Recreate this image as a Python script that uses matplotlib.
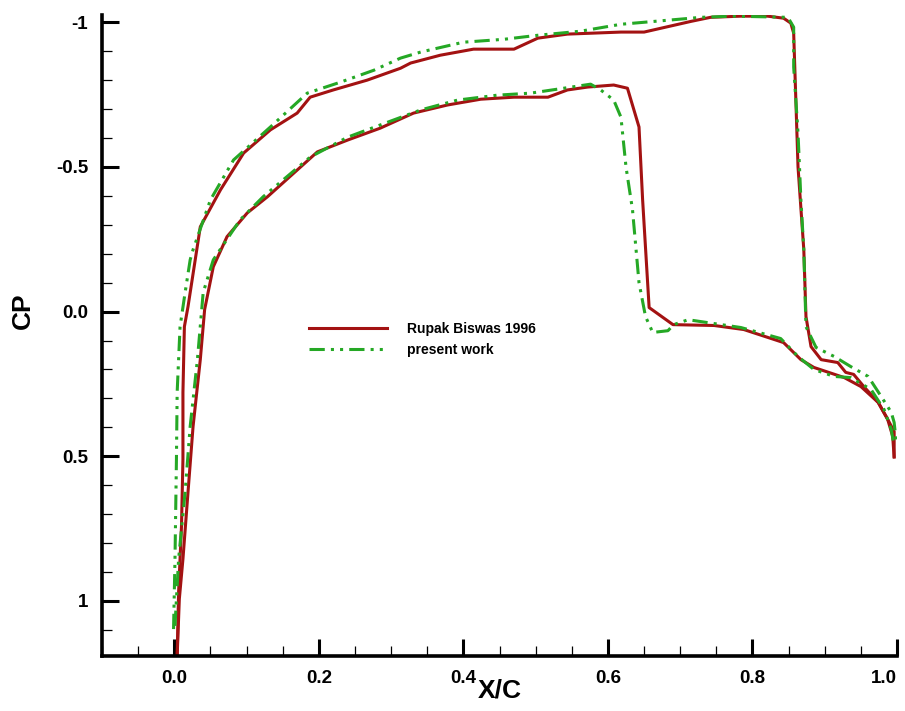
"""
Pressure coefficient distribution: Rupak Biswas 1996 vs present work.
"""

import matplotlib.pyplot as plt
from matplotlib.ticker import MultipleLocator

# Rupak Biswas 1996 - upper surface
ref_up_x = [0.004, 0.006, 0.010, 0.012, 0.012, 0.014, 0.019, 0.036, 0.064, 0.096,
            0.133, 0.170, 0.188, 0.220, 0.267, 0.313, 0.327, 0.368, 0.414, 0.470,
            0.503, 0.544, 0.618, 0.650, 0.715, 0.742, 0.784, 0.821, 0.843, 0.853,
            0.857, 0.860, 0.863, 0.871, 0.874, 0.881, 0.895, 0.918, 0.929, 0.940,
            0.954, 0.974, 0.987, 0.996, 0.996]
ref_up_cp = [1.19, 0.969, 0.741, 0.510, 0.279, 0.052, -0.017, -0.293, -0.421, -0.548,
             -0.628, -0.686, -0.741, -0.766, -0.800, -0.841, -0.859, -0.886, -0.907, -0.907,
             -0.945, -0.959, -0.966, -0.966, -1.003, -1.017, -1.021, -1.021, -1.014, -0.997,
             -0.962, -0.731, -0.500, -0.214, 0.017, 0.121, 0.166, 0.176, 0.210, 0.217,
             0.259, 0.314, 0.372, 0.414, 0.500]

# Rupak Biswas 1996 - lower surface
ref_lo_x = [0.004, 0.007, 0.012, 0.019, 0.026, 0.036, 0.042, 0.054, 0.073, 0.101,
            0.129, 0.198, 0.240, 0.285, 0.331, 0.378, 0.424, 0.470, 0.517, 0.544,
            0.572, 0.608, 0.627, 0.643, 0.648, 0.657, 0.690, 0.747, 0.788, 0.843,
            0.867, 0.885, 0.927, 0.950, 0.974, 0.987, 0.994, 0.996]
ref_lo_cp = [1.19, 0.993, 0.855, 0.624, 0.397, 0.166, -0.007, -0.155, -0.259, -0.341,
             -0.397, -0.552, -0.593, -0.634, -0.686, -0.714, -0.734, -0.741, -0.741, -0.766,
             -0.776, -0.783, -0.772, -0.638, -0.386, -0.014, 0.045, 0.048, 0.062, 0.107,
             0.166, 0.193, 0.228, 0.259, 0.314, 0.372, 0.431, 0.503]

# present work - upper surface
cur_up_x = [-0.001, 0.001, 0.003, 0.004, 0.008, 0.015, 0.022, 0.026, 0.050, 0.082,
            0.133, 0.184, 0.230, 0.276, 0.313, 0.341, 0.400, 0.456, 0.503, 0.562,
            0.618, 0.683, 0.729, 0.774, 0.849, 0.857, 0.857, 0.863, 0.867, 0.871,
            0.874, 0.888, 0.913, 0.936, 0.960, 0.978, 0.992, 0.996, 0.999]
cur_up_cp = [1.097, 0.855, 0.510, 0.279, 0.052, -0.066, -0.179, -0.214, -0.386, -0.524,
             -0.638, -0.755, -0.793, -0.834, -0.876, -0.897, -0.931, -0.941, -0.955, -0.969,
             -0.993, -1.007, -1.017, -1.021, -1.017, -0.983, -0.845, -0.617, -0.386, -0.214,
             0.052, 0.124, 0.155, 0.190, 0.224, 0.293, 0.348, 0.383, 0.452]

# present work - lower surface
cur_lo_x = [0.001, 0.006, 0.015, 0.022, 0.032, 0.040, 0.054, 0.091, 0.123, 0.188,
            0.240, 0.285, 0.341, 0.392, 0.447, 0.493, 0.539, 0.576, 0.590, 0.608,
            0.618, 0.625, 0.634, 0.643, 0.652, 0.662, 0.683, 0.691, 0.711, 0.738,
            0.784, 0.839, 0.863, 0.885, 0.913, 0.936, 0.964, 0.982, 0.992, 0.996]
cur_lo_cp = [1.086, 0.855, 0.624, 0.397, 0.166, -0.066, -0.179, -0.317, -0.397, -0.534,
             -0.603, -0.645, -0.697, -0.731, -0.748, -0.755, -0.772, -0.786, -0.766, -0.731,
             -0.672, -0.500, -0.352, -0.100, 0.017, 0.072, 0.066, 0.045, 0.028, 0.038,
             0.055, 0.093, 0.155, 0.200, 0.224, 0.228, 0.269, 0.338, 0.407, 0.466]

x_ticks = [0.0, 0.2, 0.4, 0.6, 0.8, 1.0]
x_labels = ["0.0", "0.2", "0.4", "0.6", "0.8", "1.0"]
y_ticks = [-1.0, -0.5, 0.0, 0.5, 1.0]
y_labels = ["-1", "-0.5", "0.0", "0.5", "1"]

RED = "#a31212"
GREEN = "#25a825"
tick_font = {"family": "Liberation Sans", "size": 13.5, "weight": "bold"}

fig = plt.figure(figsize=(9.05, 7.11), dpi=100)
ax = fig.add_axes([0.1127, 0.0774, 0.8785, 0.9015])

ax.plot(ref_up_x, ref_up_cp, color=RED, lw=2.2, label="Rupak Biswas 1996")
ax.plot(ref_lo_x, ref_lo_cp, color=RED, lw=2.2)
ax.plot(cur_up_x, cur_up_cp, color=GREEN, lw=2.2, dashes=(5, 2, 1, 2, 1, 2),
        label="present work")
ax.plot(cur_lo_x, cur_lo_cp, color=GREEN, lw=2.2, dashes=(5, 2, 1, 2, 1, 2))

ax.set_xlim(-0.1, 1.0)
ax.set_ylim(1.19, -1.025)

ax.spines["top"].set_visible(False)
ax.spines["right"].set_visible(False)
ax.spines["left"].set_linewidth(2.6)
ax.spines["bottom"].set_linewidth(2.6)

ax.set_xticks(x_ticks)
ax.set_xticklabels(x_labels, fontdict=tick_font)
ax.set_yticks(y_ticks)
ax.set_yticklabels(y_labels, fontdict=tick_font)
ax.xaxis.set_minor_locator(MultipleLocator(0.05))
ax.yaxis.set_minor_locator(MultipleLocator(0.1))
ax.tick_params(which="major", direction="in", length=12, width=2.2, pad=10)
ax.tick_params(which="minor", direction="in", length=7, width=0.9)
# last x label sits against the right edge, as in the source figure
ax.get_xticklabels()[-1].set_horizontalalignment("right")
ax.get_xticklabels()[-1].set_x(1.008)

ax.set_xlabel("X/C", fontsize=19, fontweight="bold", family="Liberation Sans",
              labelpad=-6)
ax.set_ylabel("CP", fontsize=19, fontweight="bold", family="Liberation Sans")
ax.yaxis.set_label_coords(-0.085, 0.538)

ax.legend(loc="upper left", bbox_to_anchor=(0.245, 0.541), frameon=False,
          handlelength=5.6, handletextpad=1.4, labelspacing=0.55,
          prop={"weight": "bold", "size": 10, "family": "Liberation Sans"})

fig.savefig("out.png", dpi=100)
